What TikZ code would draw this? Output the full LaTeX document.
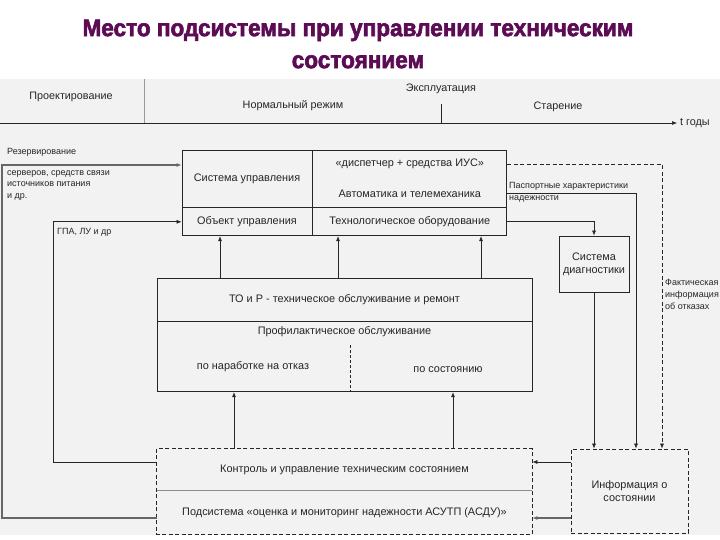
\documentclass[tikz,border=0pt]{standalone}
\usepackage{fontspec}
\setmainfont{Liberation Sans}
\newfontfamily\titlefont[FakeStretch=0.94,FakeBold=2.5]{Liberation Sans}
\usetikzlibrary{arrows.meta, calc, positioning}
\colorlet{linecolor}{black!85}
\colorlet{textdark}{black!85}
\colorlet{loopcolor}{black!60}
\colorlet{tickcolor}{black!40}
\definecolor{titlecolor}{RGB}{92,12,84}
\definecolor{panelfill}{RGB}{242,242,242}
\tikzset{
  cell/.style={
    draw=linecolor,
    line width=0.8pt,
    inner sep=0pt,
    align=center,
    text=textdark,
    font=\fontsize{10.9}{13}\selectfont
  },
  plain/.style={cell, draw=none},
  dashbox/.style={cell, dash pattern=on 4pt off 2.5pt},
  phase/.style={inner sep=0pt, text=textdark, font=\fontsize{10.8}{12}\selectfont},
  note/.style={inner sep=0pt, align=left, text=textdark, font=\fontsize{9}{11.8}\selectfont},
  titletext/.style={align=center, text=titlecolor, font=\titlefont\bfseries\fontsize{24}{32}\selectfont},
  link/.style={draw=linecolor, line width=0.6pt},
  arr/.style={link, -{Latex[length=5pt,width=4pt]}},
  dasharr/.style={arr, dash pattern=on 4pt off 2.5pt},
  looparr/.style={arr, draw=loopcolor, line width=1.1pt}
}

\begin{document}
\begin{tikzpicture}[x=1pt, y=-1pt]
\useasboundingbox (0,0) rectangle (720,540);
\fill[panelfill] (0,79) rectangle (720,535);

\node[titletext] (title) at (358,44) {Место подсистемы при управлении техническим\\состоянием};

\coordinate (tstart) at (0,123);
\node[phase, anchor=west] (tunit) at (680,123) {t годы};
\draw[arr, shorten >=3pt] (tstart) -- (tunit.west);
\coordinate (designend) at (144,79);
\coordinate (agestart) at (441,104);
\draw[tickcolor, line width=0.8pt] (designend) -- (designend |- tstart);
\draw[link] (agestart) -- (agestart |- tstart);
\node[phase] (design) at (71,97) {Проектирование};
\node[phase] (operation) at (441,89) {Эксплуатация};
\node[phase] (normal) at (293,106) {Нормальный режим};
\node[phase] (ageing) at (558,107) {Старение};

\node[cell, minimum width=130, minimum height=57] (ctrlsys) at (247,178.5) {Система управления};
\node[cell, minimum width=194, minimum height=57, right=0pt of ctrlsys] (dispatch) {«диспетчер + средства ИУС»\\[18pt]Автоматика и телемеханика};
\node[cell, minimum width=130, minimum height=28, below=0pt of ctrlsys] (objctl) {Объект управления};
\node[cell, minimum width=194, minimum height=28, below=0pt of dispatch] (equip) {Технологическое оборудование};

\node[cell, minimum width=70, minimum height=56] (diag) at (594,264) {Система\\диагностики};

\node[cell, minimum width=375, minimum height=43] (tor) at (344.5,299.5) {ТО и Р - техническое обслуживание и ремонт};
\node[cell, minimum width=375, minimum height=70, below=0pt of tor] (prof) {};
\node[plain, below=5pt of prof.north] (proftitle) {Профилактическое обслуживание};
\node[plain] (byfail) at (253,367) {по наработке на отказ};
\node[plain] (bystate) at (448,370) {по состоянию};
\coordinate (profsplit) at (350,345);
\draw[link, dash pattern=on 3pt off 2pt] (profsplit) -- (profsplit |- prof.south);

\node[plain, minimum width=375, minimum height=41] (ctrl) at (344.5,469.5) {Контроль и управление техническим состоянием};
\node[plain, minimum width=375, minimum height=43, below=0pt of ctrl] (subsys) {Подсистема «оценка и мониторинг надежности АСУТП (АСДУ)»};
\draw[link, dash pattern=on 4pt off 2.5pt, line width=0.8pt] (ctrl.north west) rectangle (subsys.south east);
\draw[link, draw=black!45] (ctrl.south west) -- (ctrl.south east);

\node[dashbox, minimum width=117, minimum height=84] (info) at (629.5,491) {Информация о\\состоянии};

\node[note, anchor=west] (reserve) at (7,152) {Резервирование};
\node[note, anchor=north west] (reservewhat) at (7,170) {серверов, средств связи\\источников питания\\и др.};
\node[note, anchor=west] (gpa) at (57,232) {ГПА, ЛУ и др};
\node[note, anchor=south west] (passport) at (509,191) {Паспортные характеристики};
\node[note, anchor=north west] (passportend) at (509,195) {надежности};
\node[note, anchor=north west] (factual) at (665,279) {Фактическая\\информация\\об отказах};

\coordinate (outerturn) at (2,518);
\coordinate (innerturn) at (53,462);
\coordinate (passturn) at (636,193);
\coordinate (factturn) at (662,164);

\draw[looparr] (subsys.west |- outerturn) -- (outerturn) |- ($(ctrlsys.west)+(0,-13.5)$);
\draw[arr] (ctrl.west |- innerturn) -- (innerturn) |- (objctl.west);

\foreach \xp in {220,338,481}
  \draw[arr] (\xp,0 |- tor.north) -- (\xp,0 |- objctl.south);
\foreach \xp in {234,453}
  \draw[arr] (\xp,0 |- ctrl.north) -- (\xp,0 |- prof.south);

\draw[arr] (equip.east) -| (diag.north);
\draw[arr] (diag.south) -- (diag.south |- info.north);
\draw[arr] (dispatch.east |- passturn) -| (passturn |- info.north);
\draw[dasharr] (dispatch.east |- factturn) -| (factturn |- info.north);

\draw[arr] (0,462 -| info.west) -- (0,462 -| ctrl.east);
\draw[looparr] (outerturn -| info.west) -- (outerturn -| subsys.east);

\end{tikzpicture}
\end{document}
